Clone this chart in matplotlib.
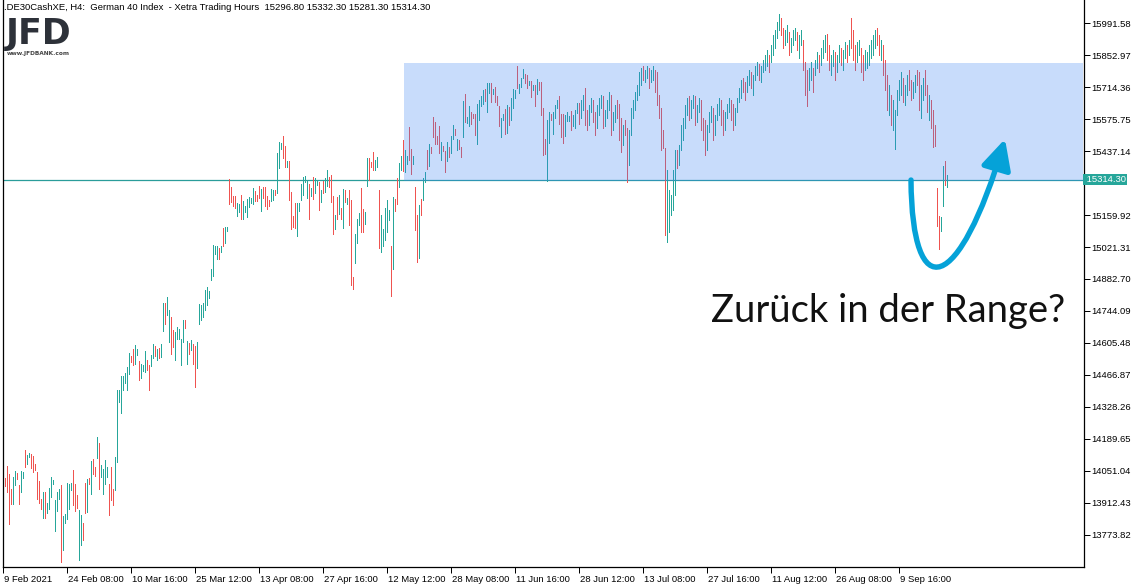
import numpy as np
import matplotlib.pyplot as plt
from matplotlib.path import Path
from matplotlib.patches import FancyArrowPatch, Rectangle
import matplotlib.transforms as mtransforms

# H4 bars, German 40 Index (high / low per bar)
highs = [
    14019, 14072, 14037, 13972, 14024, 14050, 14041, 13989, 14050, 14045,
    14141, 14119, 14128, 14124, 14115, 14080, 14045, 14007, 13928, 13959,
    13959, 13911, 13976, 14024, 14011, 13924, 13959, 13972, 13989, 13855,
    13863, 13998, 13993, 13998, 14054, 13993, 13946, 13881, 13859, 13824,
    13998, 14015, 14019, 14093, 14102, 14067, 14197, 14171, 14076, 14058,
    14098, 14067, 13993, 14067, 13972, 14111, 14401, 14401, 14462, 14462,
    14475, 14501, 14562, 14549, 14579, 14596, 14579, 14527, 14514, 14510,
    14570, 14531, 14510, 14553, 14601, 14592, 14579, 14583, 14601, 14779,
    14779, 14805, 14748, 14718, 14662, 14653, 14674, 14666, 14623, 14705,
    14705, 14614, 14605, 14618, 14601, 14592, 14609, 14774, 14770, 14779,
    14835, 14848, 14831, 14926, 15030, 15026, 15026, 15017, 15026, 15104,
    15108, 15108, 15317, 15282, 15243, 15243, 15212, 15208, 15247, 15221,
    15199, 15230, 15238, 15234, 15278, 15265, 15247, 15286, 15273, 15282,
    15282, 15243, 15225, 15273, 15269, 15269, 15429, 15477, 15473, 15503,
    15460, 15395, 15395, 15260, 15156, 15212, 15212, 15212, 15295, 15325,
    15330, 15312, 15295, 15278, 15325, 15321, 15312, 15304, 15269, 15308,
    15321, 15356, 15325, 15334, 15243, 15160, 15238, 15247, 15191, 15273,
    15269, 15234, 15269, 15225, 14891, 15078, 15143, 15169, 15278, 15186,
    15173, 15408, 15408, 15390, 15434, 15399, 15412, 15269, 15160, 15100,
    15191, 15225, 15182, 15026, 15238, 15230, 15321, 15386, 15416, 15486,
    15442, 15416, 15542, 15447, 15416, 15282, 15160, 15204, 15230, 15321,
    15347, 15442, 15468, 15455, 15585, 15564, 15503, 15546, 15477, 15460,
    15438, 15477, 15455, 15503, 15551, 15533, 15490, 15486, 15455, 15655,
    15685, 15585, 15633, 15607, 15598, 15598, 15642, 15659, 15677, 15703,
    15707, 15733, 15733, 15733, 15707, 15716, 15677, 15633, 15581, 15598,
    15620, 15638, 15629, 15668, 15707, 15703, 15807, 15729, 15755, 15794,
    15772, 15768, 15742, 15742, 15724, 15724, 15750, 15737, 15737, 15625,
    15490, 15572, 15607, 15598, 15607, 15638, 15659, 15677, 15598, 15598,
    15594, 15607, 15590, 15612, 15594, 15616, 15646, 15646, 15659, 15681,
    15711, 15616, 15638, 15668, 15659, 15607, 15638, 15668, 15681, 15677,
    15616, 15659, 15694, 15681, 15607, 15638, 15659, 15642, 15581, 15551,
    15572, 15538, 15529, 15625, 15659, 15694, 15724, 15781, 15798, 15807,
    15789, 15807, 15798, 15789, 15807, 15789, 15781, 15681, 15625, 15529,
    15451, 15356, 15269, 15247, 15356, 15442, 15442, 15464, 15551, 15581,
    15638, 15668, 15677, 15659, 15681, 15677, 15638, 15668, 15659, 15581,
    15572, 15551, 15607, 15633, 15625, 15594, 15642, 15668, 15659, 15616,
    15607, 15642, 15668, 15659, 15642, 15625, 15668, 15711, 15746, 15755,
    15737, 15763, 15789, 15781, 15768, 15807, 15824, 15815, 15807, 15833,
    15854, 15876, 15854, 15898, 15941, 15963, 15998, 16032, 16015, 15972,
    15963, 15985, 15954, 15928, 15963, 15972, 15954, 15941, 15963, 15920,
    15824, 15789, 15798, 15824, 15798, 15833, 15867, 15854, 15885, 15920,
    15941, 15946, 15898, 15854, 15876, 15867, 15854, 15898, 15885, 15876,
    15911, 15898, 15920, 16015, 15963, 15898, 15911, 15920, 15885, 15854,
    15876, 15867, 15898, 15920, 15941, 15963, 15972, 15941, 15920, 15898,
    15833, 15768, 15724, 15681, 15659, 15616, 15703, 15746, 15781, 15755,
    15724, 15768, 15789, 15746, 15737, 15768, 15789, 15781, 15724, 15755,
    15789, 15724, 15681, 15659, 15616, 15551, 15278, 15156, 15152, 15373,
    15395, 15332.3,
]
lows = [
    13985, 13959, 13820, 13907, 13907, 13989, 14015, 13907, 13959, 14019,
    14067, 14080, 14111, 14063, 14045, 14054, 13928, 13911, 13885, 13846,
    13846, 13868, 13885, 13937, 13993, 13790, 13876, 13928, 13655, 13707,
    13824, 13842, 13885, 13967, 13902, 13876, 13889, 13664, 13729, 13751,
    13868, 13872, 13993, 13950, 14037, 14028, 14106, 13972, 14024, 13950,
    13993, 14024, 13859, 13924, 13902, 13967, 14089, 14349, 14301, 14401,
    14432, 14401, 14471, 14523, 14510, 14514, 14553, 14445, 14453, 14484,
    14479, 14488, 14401, 14505, 14540, 14549, 14531, 14540, 14544, 14657,
    14687, 14727, 14609, 14557, 14588, 14531, 14623, 14623, 14510, 14609,
    14670, 14514, 14557, 14575, 14514, 14414, 14497, 14687, 14705, 14718,
    14748, 14770, 14800, 14878, 14896, 14991, 14970, 14970, 15000, 15026,
    15039, 15091, 15208, 15217, 15199, 15191, 15156, 15173, 15143, 15143,
    15173, 15152, 15195, 15212, 15208, 15221, 15221, 15234, 15178, 15234,
    15199, 15186, 15199, 15221, 15225, 15247, 15256, 15364, 15447, 15408,
    15369, 15369, 15225, 15100, 15108, 15104, 15069, 15178, 15225, 15247,
    15304, 15234, 15143, 15243, 15230, 15256, 15291, 15182, 15217, 15256,
    15260, 15286, 15282, 15217, 15078, 15100, 15143, 15165, 15143, 15104,
    15217, 15208, 15117, 14857, 14839, 14952, 15039, 15117, 15087, 15087,
    15121, 15286, 15312, 15369, 15356, 15356, 15369, 15017, 15000, 15026,
    15052, 15087, 15139, 14809, 14926, 15178, 15208, 15282, 15356, 15351,
    15347, 15382, 15399, 15338, 15382, 15095, 14956, 14974, 15160, 15225,
    15304, 15360, 15373, 15429, 15499, 15468, 15468, 15429, 15399, 15438,
    15347, 15395, 15412, 15429, 15490, 15507, 15442, 15447, 15412, 15499,
    15564, 15559, 15546, 15555, 15581, 15507, 15468, 15572, 15633, 15642,
    15655, 15607, 15690, 15651, 15685, 15651, 15638, 15546, 15499, 15572,
    15512, 15516, 15551, 15572, 15625, 15668, 15711, 15690, 15716, 15755,
    15733, 15711, 15724, 15672, 15703, 15633, 15685, 15703, 15594, 15421,
    15425, 15308, 15473, 15572, 15512, 15581, 15625, 15555, 15499, 15473,
    15503, 15568, 15568, 15529, 15546, 15538, 15603, 15555, 15581, 15616,
    15551, 15529, 15551, 15607, 15564, 15507, 15538, 15594, 15625, 15538,
    15546, 15581, 15616, 15507, 15529, 15564, 15581, 15486, 15434, 15464,
    15507, 15304, 15377, 15507, 15581, 15616, 15659, 15681, 15724, 15746,
    15737, 15755, 15711, 15737, 15746, 15694, 15638, 15581, 15442, 15451,
    15074, 15043, 15087, 15160, 15182, 15247, 15364, 15377, 15442, 15486,
    15538, 15594, 15572, 15581, 15625, 15551, 15564, 15607, 15529, 15486,
    15421, 15442, 15520, 15564, 15486, 15507, 15572, 15594, 15551, 15507,
    15529, 15581, 15607, 15572, 15529, 15551, 15607, 15651, 15668, 15694,
    15659, 15694, 15724, 15711, 15681, 15746, 15768, 15746, 15737, 15781,
    15789, 15807, 15781, 15824, 15854, 15885, 15928, 15963, 15941, 15885,
    15898, 15911, 15854, 15867, 15898, 15920, 15876, 15841, 15898, 15789,
    15681, 15633, 15703, 15746, 15694, 15768, 15798, 15781, 15811, 15841,
    15867, 15833, 15789, 15768, 15807, 15746, 15781, 15824, 15811, 15789,
    15841, 15824, 15854, 15885, 15833, 15789, 15824, 15854, 15781, 15746,
    15789, 15798, 15811, 15841, 15854, 15885, 15898, 15854, 15833, 15768,
    15703, 15616, 15594, 15551, 15529, 15447, 15594, 15659, 15681, 15651,
    15638, 15681, 15703, 15659, 15668, 15694, 15724, 15616, 15581, 15659,
    15681, 15607, 15572, 15538, 15455, 15460, 15113, 15013, 15091, 15199,
    15291, 15281.3,
]
# G = bullish bar, R = bearish bar
bar_dir = (
    "RRRRGGRRGG" "RGGRRRRRRG" "RGGGGGGGRG" "GGGGRRRGGR" "RGRGRRGRGG"
    "GGRRRGGGGG" "GGGRRGGRGG" "GRRGGRGRGG" "RGGRRGGGGG" "RGRGRRGGGG"
    "GGGGGGGRGR" "GGRRRRGGRG" "GGGGGRRRGR" "RRRGGRGGGR" "RGRRRRGGGG"
    "GGRGRGGRGR" "GGRRRGRGRG" "RGRRRGGGRR" "GGRRRGGRGG" "GGGRGRRGGR"
    "GGRRGRRGRG" "GRGRRRRRGR" "RGRGGRGRRG" "RGGRRRGGGG" "RGGRGRRRGG"
    "RGRGGGRGGG" "RRGRGRGRRR" "RGGRGGGRRR" "GGGRGGGRGG" "RRGGRRGGGR"
    "GGGRGGRRRG" "RRGGGGGGGR" "GGRGGRRRRR" "RGGGGGRGGG" "GGRGGRGGRR"
    "RGGGRGGGRR" "GGGRRGGGGR" "RGGRGGGRGG" "GGRGGGGGRR" "GGRGGGRGGR"
    "RRGGRGGRGG" "GRRGGRGGRG" "GRGRRRGGRR" "GGGGGGRRGR" "RRGRGGGGGR"
    "GGRRGGRRGG" "RRGRRRRRGG" "RG"
)
last_price = 15314.30
title = (".DE30CashXE, H4:  German 40 Index  - Xetra Trading Hours  "
         "15296.80 15332.30 15281.30 15314.30")
price_ticks = [15991.58, 15852.97, 15714.36, 15575.75, 15437.14, 15298.53,
               15159.92, 15021.31, 14882.70, 14744.09, 14605.48, 14466.87,
               14328.26, 14189.65, 14051.04, 13912.43, 13773.82]
date_tick_bars = [-1.0, 31, 63, 95, 127, 159, 191, 223, 255, 287, 319, 351,
                  383, 415, 447]
date_labels = ["9 Feb 2021", "24 Feb 08:00", "10 Mar 16:00", "25 Mar 12:00",
               "13 Apr 08:00", "27 Apr 16:00", "12 May 12:00", "28 May 08:00",
               "11 Jun 16:00", "28 Jun 12:00", "13 Jul 08:00", "27 Jul 16:00",
               "11 Aug 12:00", "26 Aug 08:00", "9 Sep 16:00"]

# range box and the hand drawn arrow (bar index / price)
range_box = (199.5, 539.0, 15308, 15820)
arrow_pts = [(453.0, 15312), (453.5, 14757), (477.0, 14818), (500.0, 15490)]

GREEN = "#26a69a"
RED = "#ef5350"
TICK_FONT = ["Liberation Sans", "DejaVu Sans"]
FS = 6.8

W, H = 1142, 588
fig = plt.figure(figsize=(W / 100, H / 100), dpi=100)
ax = fig.add_axes([3 / W, 21 / H, 1081 / W, 567 / H])

highs = np.array(highs, dtype=float)
lows = np.array(lows, dtype=float)
x = np.arange(len(highs))
up = np.array([c == "G" for c in bar_dir])

ax.vlines(x[up], lows[up], highs[up], colors=GREEN, lw=0.72,
          antialiased=False, zorder=2)
ax.vlines(x[~up], lows[~up], highs[~up], colors=RED, lw=0.72,
          antialiased=False, zorder=2)
ax.axhline(last_price, color="#2a9d9a", lw=0.9, zorder=1.5)

x0, x1, y0, y1 = range_box
ax.add_patch(Rectangle((x0, y0), x1 - x0, y1 - y0, facecolor="#3b82f4",
                       alpha=0.28, edgecolor="none", zorder=3))

codes = [Path.MOVETO, Path.CURVE4, Path.CURVE4, Path.CURVE4]
arr = FancyArrowPatch(path=Path(arrow_pts, codes),
                      arrowstyle="-|>,head_length=18,head_width=9",
                      mutation_scale=1, lw=3.9, color="#05a2d8", zorder=5,
                      capstyle="round")
ax.add_patch(arr)

ax.set_xlim(-1.0, 539.5)
ax.set_ylim(16093 - 4.338 * 567, 16093)

ax.yaxis.tick_right()
ax.set_yticks(price_ticks)
ylabels = ["%.2f" % v for v in price_ticks]
ylabels[price_ticks.index(15298.53)] = ""  # covered by the price marker
ax.set_yticklabels(ylabels, family=TICK_FONT, fontsize=FS)
ax.set_xticks(date_tick_bars)
ax.set_xticklabels(date_labels, family=TICK_FONT, fontsize=FS, ha="left")
ax.tick_params(axis="y", direction="out", length=4, width=0.72, pad=1.5, colors="black")
ax.tick_params(axis="x", direction="out", length=4, width=0.72, pad=1.5, colors="black")
for lab in ax.get_xticklabels():
    lab.set_transform(lab.get_transform() + mtransforms.ScaledTranslation(1 / 100, 0, fig.dpi_scale_trans))

for s in ["left", "bottom", "right"]:
    ax.spines[s].set_color("black")
    ax.spines[s].set_linewidth(0.9)
ax.spines["top"].set_visible(False)

# current price label on the price scale
ax.text(1.0, last_price, " 15314.30", transform=ax.get_yaxis_transform(),
        ha="left", va="center", color="white", family=TICK_FONT, fontsize=FS,
        bbox=dict(boxstyle="square,pad=0.15", facecolor=GREEN, edgecolor="none"),
        zorder=6, clip_on=False)

fig.text(4 / W, 1 - 8 / H, title, family=TICK_FONT, fontsize=FS, va="center")
fig.text(6 / W, 1 - 34 / H, "JFD", fontsize=25, weight="bold", color="#2d3139",
         va="center", family="DejaVu Sans")
fig.text(7 / W, 1 - 53 / H, "www.JFDBANK.com", fontsize=4.2, color="#444444",
         va="center", weight="bold")

fig.text(888 / W, 1 - 311 / H, "Zurück in der Range?", fontsize=27.5,
         family=["Lato", "DejaVu Sans"], ha="center", va="center", color="#111111")

fig.savefig("out.png", dpi=100, facecolor="white")
